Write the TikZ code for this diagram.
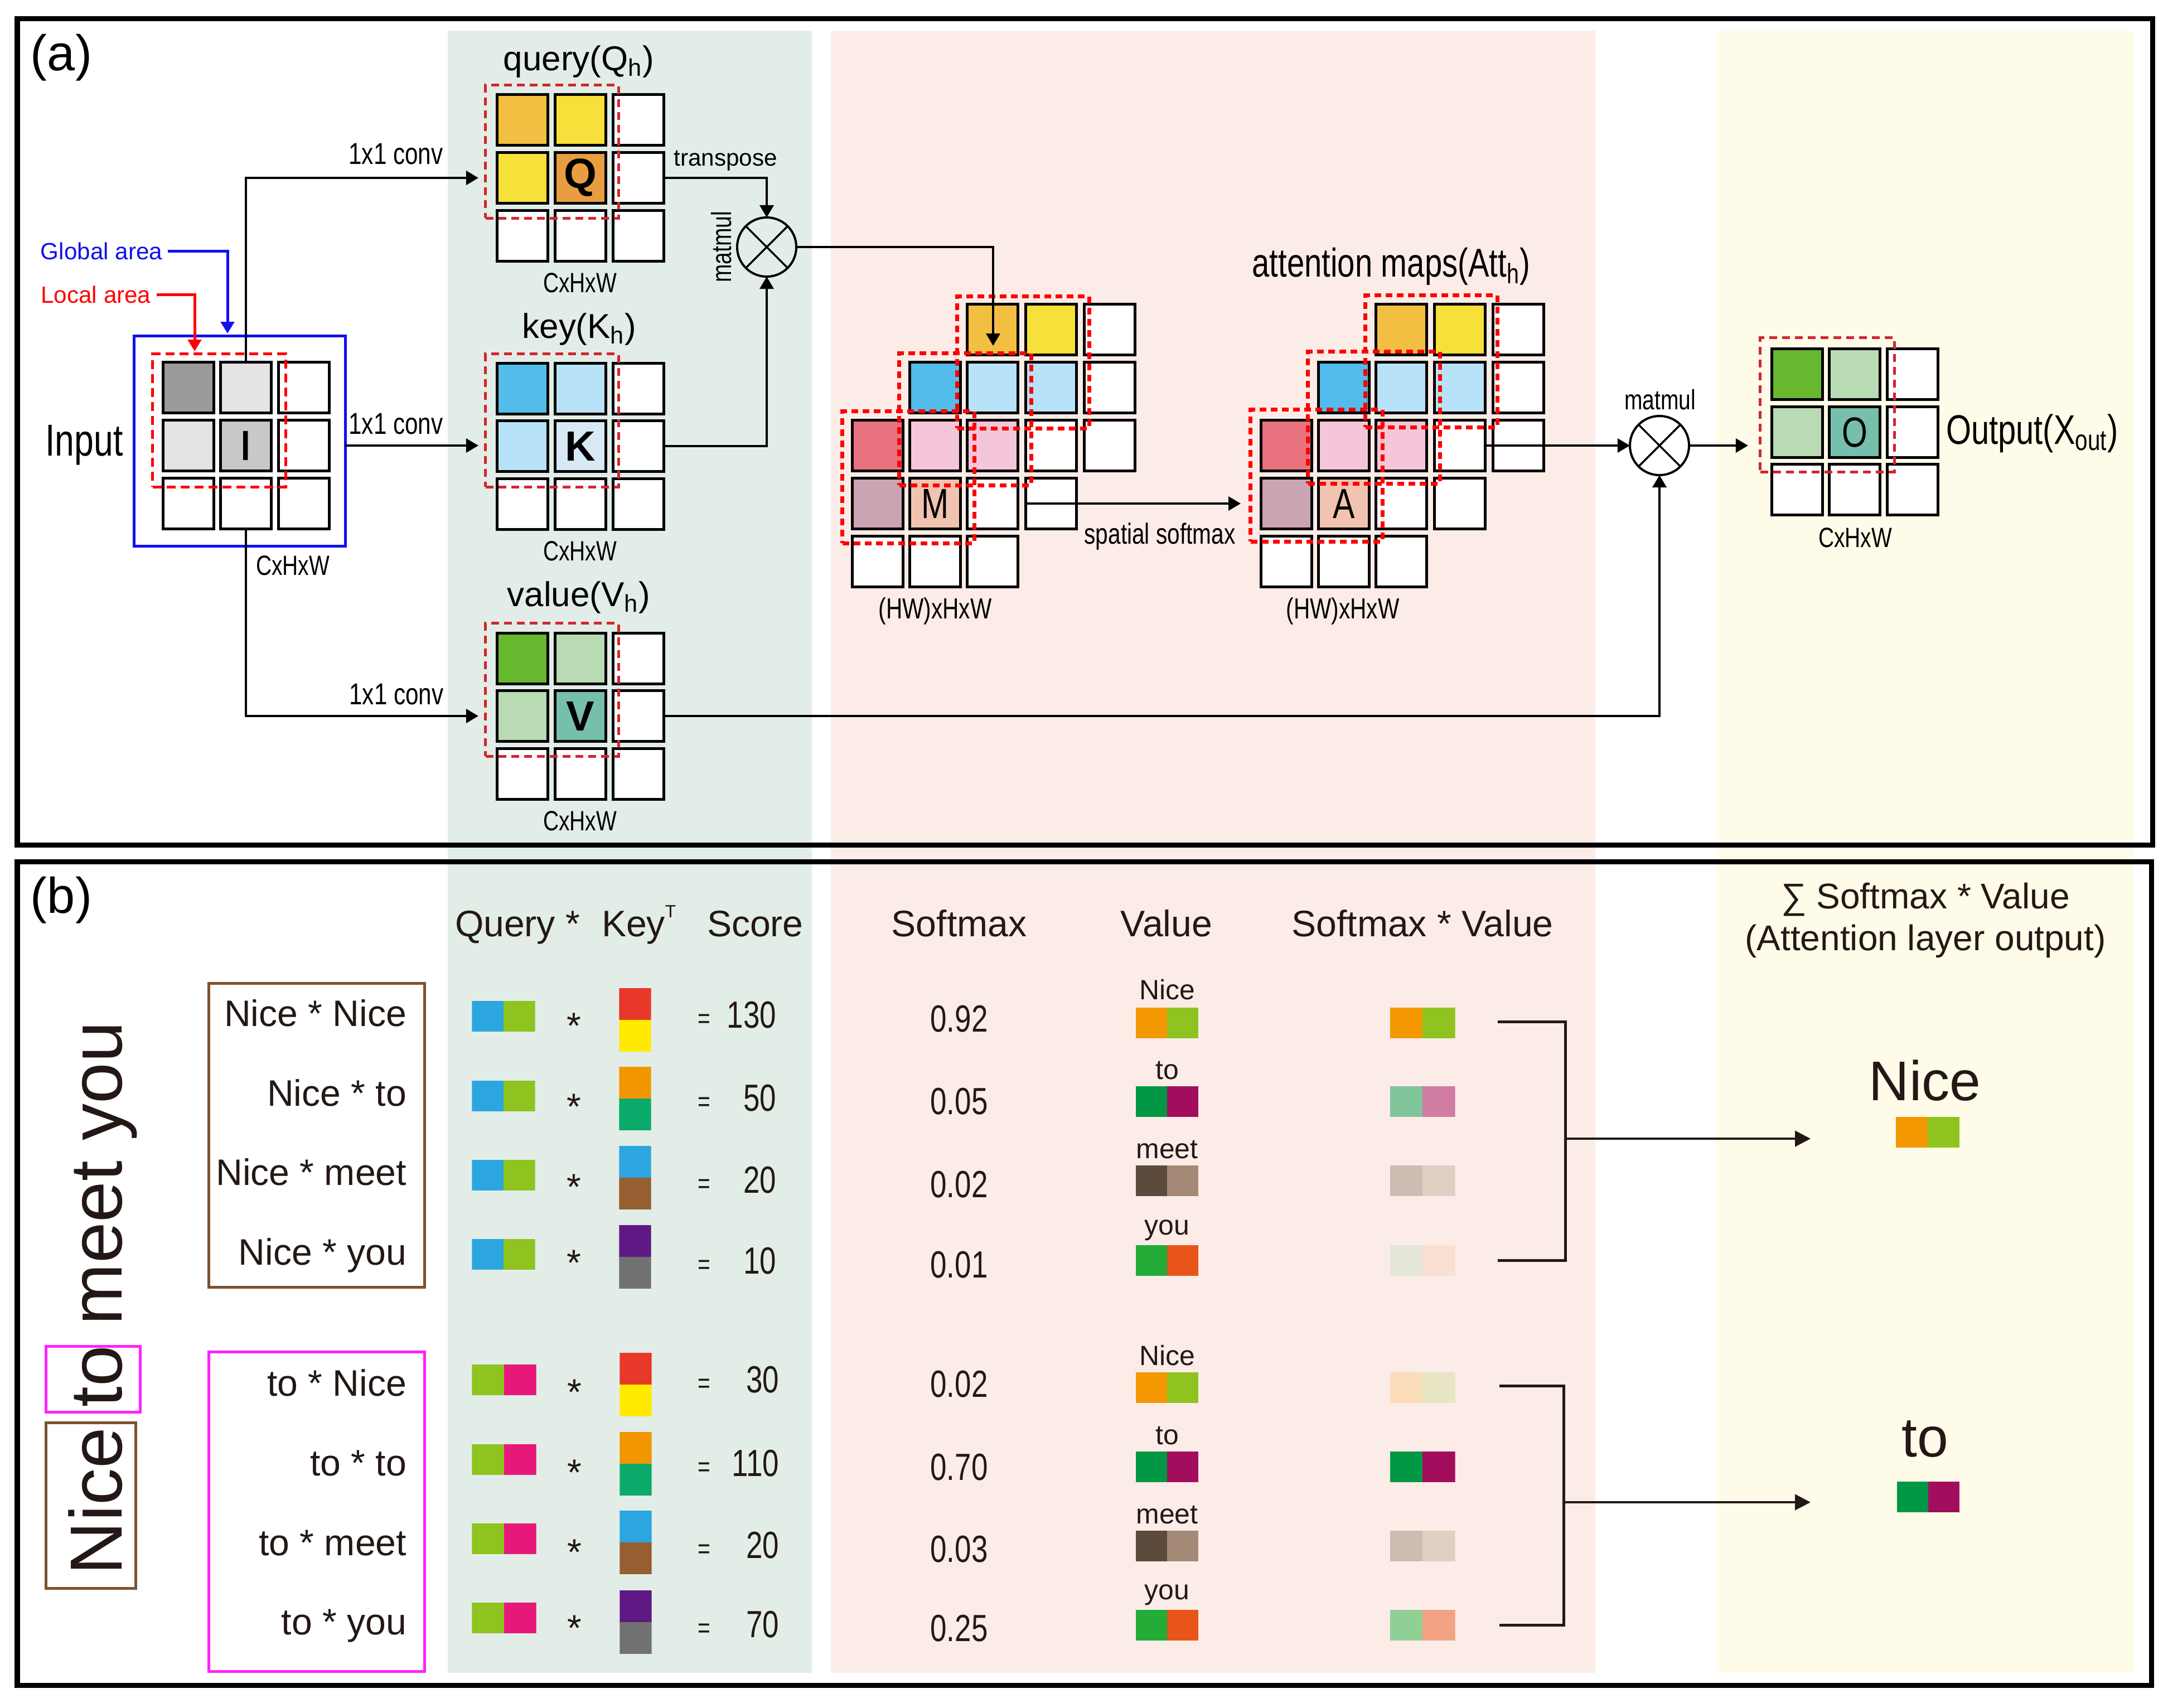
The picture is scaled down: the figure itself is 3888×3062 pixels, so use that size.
\documentclass[tikz,border=0pt]{standalone}
\usepackage{fontspec}
\setmainfont{Liberation Sans}
\newfontfamily\nar[FakeStretch=0.78]{Liberation Sans}
\usetikzlibrary{arrows.meta,calc}
% colours
\definecolor{bandG}{HTML}{E3EDE7}
\definecolor{bandP}{HTML}{FCECE8}
\definecolor{bandY}{HTML}{FEFBE8}
\definecolor{qo}{HTML}{F3BF42}
\definecolor{qy}{HTML}{F8E03A}
\definecolor{qq}{HTML}{E89E40}
\definecolor{kb}{HTML}{52BDEB}
\definecolor{kl}{HTML}{B8E2F7}
\definecolor{kk}{HTML}{D8E9F6}
\definecolor{vg}{HTML}{67B82E}
\definecolor{vl}{HTML}{B9DBB4}
\definecolor{vv}{HTML}{77BFAD}
\definecolor{mr}{HTML}{E8737F}
\definecolor{mp}{HTML}{F5C6D9}
\definecolor{mauve}{HTML}{CBA4B4}
\definecolor{peach}{HTML}{F0C4B0}
\definecolor{gA}{HTML}{9A9A9A}
\definecolor{gB}{HTML}{E4E4E4}
\definecolor{gC}{HTML}{C8C8C8}
\definecolor{crim}{HTML}{D22630}
\definecolor{bred}{HTML}{FF0000}
\definecolor{bblue}{HTML}{1010F0}
\definecolor{brn}{HTML}{7B5231}
\definecolor{mgt}{HTML}{FF22FF}
\definecolor{ink}{HTML}{231815}
\definecolor{cBlue}{HTML}{2BA6DF}
\definecolor{cLime}{HTML}{8FC31F}
\definecolor{cMag}{HTML}{E6187A}
\definecolor{cRed}{HTML}{E8382A}
\definecolor{cYel}{HTML}{FFEA00}
\definecolor{cOr}{HTML}{F29600}
\definecolor{cTeal}{HTML}{0BAA6A}
\definecolor{cBrown}{HTML}{955F31}
\definecolor{cPur}{HTML}{5F1985}
\definecolor{cGray}{HTML}{727171}
\definecolor{vOr}{HTML}{F39800}
\definecolor{vGr}{HTML}{009844}
\definecolor{vMg}{HTML}{A20E5D}
\definecolor{vDb}{HTML}{5C4A3C}
\definecolor{vTp}{HTML}{A48A76}
\definecolor{vYg}{HTML}{23AC38}
\definecolor{vRo}{HTML}{E85419}
\definecolor{sA}{HTML}{80C49A}
\definecolor{sB}{HTML}{D17CA3}
\definecolor{sC}{HTML}{CEBCB2}
\definecolor{sD}{HTML}{E1CFC4}
\definecolor{sE}{HTML}{E4E6D8}
\definecolor{sF}{HTML}{FADFD3}
\definecolor{sG}{HTML}{FADCB8}
\definecolor{sH}{HTML}{E7E5C3}
\definecolor{sI}{HTML}{90D096}
\definecolor{sJ}{HTML}{F3A383}
\tikzset{
  cell/.style={draw=black, line width=0.05cm, minimum width=0.91cm, minimum height=0.91cm,
    font=\nar\fontsize{21.5}{22}\selectfont},
  cdash/.style={draw=crim, line width=0.05cm, dash pattern=on 0.14cm off 0.09cm,
    minimum width=2.38cm, minimum height=2.38cm},
  rdash/.style={draw=bred, line width=0.07cm, dash pattern=on 0.12cm off 0.08cm,
    minimum width=2.36cm, minimum height=2.36cm},
  idash/.style={draw=bred, line width=0.05cm, dash pattern=on 0.16cm off 0.09cm,
    minimum width=2.38cm, minimum height=2.38cm},
  arr/.style={draw=black, line width=0.035cm, -{Triangle[length=0.22cm,width=0.25cm]}},
  barr/.style={draw=ink, line width=0.045cm, -{Triangle[length=0.28cm,width=0.28cm]}},
  brk/.style={draw=ink, line width=0.05cm},
  mmul/.style={circle, draw=black, line width=0.04cm, minimum size=1.06cm},
  title/.style={font=\fontsize{17.6}{18}\selectfont},
  dimlab/.style={font=\nar\fontsize{14.2}{15}\selectfont},
  conv/.style={font=\nar\fontsize{15.4}{16}\selectfont},
  small/.style={font=\fontsize{12}{13}\selectfont},
  hdr/.style={font=\fontsize{18.8}{19}\selectfont, text=ink},
  num/.style={font=\nar\fontsize{19.3}{20}\selectfont, text=ink},
  vlab/.style={font=\fontsize{14.2}{15}\selectfont, text=ink},
  hbar/.style n args={4}{minimum width=#3cm, minimum height=#4cm,
    path picture={\fill[#1] (path picture bounding box.south west) rectangle (path picture bounding box.north);
      \fill[#2] (path picture bounding box.south) rectangle (path picture bounding box.north east);}},
  vbar/.style 2 args={minimum width=0.57cm, minimum height=1.14cm,
    path picture={\fill[#1] (path picture bounding box.west) rectangle (path picture bounding box.north east);
      \fill[#2] (path picture bounding box.south west) rectangle (path picture bounding box.east);}},
}
\newcommand\cel[5]{\node[cell,fill=#4] (#1) at (#2,#3) {#5};}
\begin{document}
\begin{tikzpicture}[x=0.01cm,y=-0.01cm, every node/.style={inner sep=0pt, outer sep=0pt}]
\useasboundingbox (0,0) rectangle (3888,3062);
\fill[white] (0,0) rectangle (3888,3062);
% bands
\fill[bandG] (803,55) rectangle (1456,3000);
\fill[bandP] (1490,55) rectangle (2861,3000);
\fill[bandY] (3078,55) rectangle (3826,3000);
% frames
\draw[line width=0.09cm] (31,33) rectangle (3860,1515);
\draw[line width=0.09cm] (31,1545) rectangle (3858,3022);

% ================= panel (a)
\node[font=\fontsize{25.6}{26}\selectfont] (la) at (110,103) {(a)};
% input
\node[draw=bblue, line width=0.05cm, minimum width=3.78cm, minimum height=3.77cm] (inbox) at (430,791) {};
\cel{i11}{338}{695}{gA}{}
\cel{i12}{441}{695}{gB}{}
\cel{i13}{545}{695}{white}{}
\cel{i21}{338}{799}{gB}{}
\cel{i22}{441}{799}{gC}{\bfseries I}
\cel{i23}{545}{799}{white}{}
\cel{i31}{338}{903}{white}{}
\cel{i32}{441}{903}{white}{}
\cel{i33}{545}{903}{white}{}
\node[idash] (ibox) at (393,754) {};
\node[font=\nar\fontsize{22.8}{23}\selectfont] (inl) at (151,798) {Input};
\node[dimlab] (indim) at (525,1014) {CxHxW};
\node[small, text=bblue] (glob) at (182,450) {Global area};
\node[small, text=bred] (loc) at (172,528) {Local area};
\coordinate (gtip) at (408,598);
\coordinate (ltip) at (349,630);
\draw[draw=bblue, line width=0.05cm, -{Triangle[length=0.21cm,width=0.24cm]}, shorten <=0.1cm] (glob.east) -| (gtip);
\draw[draw=bred, line width=0.05cm, -{Triangle[length=0.21cm,width=0.24cm]}, shorten <=0.1cm] (loc.east) -| (ltip);

% query
\node[title] (qt) at (1038,110) {query(Q\textsubscript{h})};
\cel{q11}{937}{215}{qo}{}
\cel{q12}{1041}{215}{qy}{}
\cel{q13}{1145}{215}{white}{}
\cel{q21}{937}{319}{qy}{}
\cel{q22}{1041}{319}{qq}{\normalfont\bfseries Q}
\cel{q23}{1145}{319}{white}{}
\cel{q31}{937}{423}{white}{}
\cel{q32}{1041}{423}{white}{}
\cel{q33}{1145}{423}{white}{}
\node[cdash] (qbox) at (990,272) {};
\node[dimlab] (qdim) at (1040,507) {CxHxW};
% key
\node[title] (kt) at (1039,590) {key(K\textsubscript{h})};
\cel{k11}{937}{697}{kb}{}
\cel{k12}{1041}{697}{kl}{}
\cel{k13}{1145}{697}{white}{}
\cel{k21}{937}{800}{kl}{}
\cel{k22}{1041}{800}{kk}{\normalfont\bfseries K}
\cel{k23}{1145}{800}{white}{}
\cel{k31}{937}{904}{white}{}
\cel{k32}{1041}{904}{white}{}
\cel{k33}{1145}{904}{white}{}
\node[cdash] (kbox) at (990,754) {};
\node[dimlab] (kdim) at (1040,988) {CxHxW};
% value
\node[title] (vt) at (1038,1071) {value(V\textsubscript{h})};
\cel{v11}{937}{1181}{vg}{}
\cel{v12}{1041}{1181}{vl}{}
\cel{v13}{1145}{1181}{white}{}
\cel{v21}{937}{1284}{vl}{}
\cel{v22}{1041}{1284}{vv}{\normalfont\bfseries V}
\cel{v23}{1145}{1284}{white}{}
\cel{v31}{937}{1388}{white}{}
\cel{v32}{1041}{1388}{white}{}
\cel{v33}{1145}{1388}{white}{}
\node[cdash] (vbox) at (990,1237) {};
\node[dimlab] (vdim) at (1040,1472) {CxHxW};

% 1x1 conv connectors
\node[conv] (c1) at (710,276) {1x1 conv};
\node[conv] (c2) at (710,760) {1x1 conv};
\node[conv] (c3) at (711,1245) {1x1 conv};
\draw[arr, line width=0.045cm, shorten >=0.13cm] (i12.north) |- (qbox.west |- q21);
\draw[arr, shorten >=0.13cm] (inbox.east |- i22) -- (kbox.west |- i22);
\draw[arr, shorten >=0.13cm] (i32.south) |- (vbox.west |- v21);

% matmul 1
\node[mmul] (mm1) at (1375,443) {};
\draw[line width=0.035cm] (mm1.45) -- (mm1.225) (mm1.135) -- (mm1.315);
\node[rotate=90, font=\nar\fontsize{14.2}{15}\selectfont] (mml1) at (1294,443) {matmul};
\node[small] (tr) at (1301,288) {transpose};
\draw[arr] (q23.east) -| (mm1.north);
\draw[arr] (k23.east) -| (mm1.south);

% M cube
\cel{mA1}{1780}{591}{qo}{}
\cel{mA2}{1885}{591}{qy}{}
\cel{mA3}{1990}{591}{white}{}
\cel{mB1}{1677}{695}{kb}{}
\cel{mB2}{1780}{695}{kl}{}
\cel{mB3}{1885}{695}{kl}{}
\cel{mB4}{1990}{695}{white}{}
\cel{mC1}{1574}{799}{mr}{}
\cel{mC2}{1677}{799}{mp}{}
\cel{mC3}{1780}{799}{mp}{}
\cel{mC4}{1885}{799}{white}{}
\cel{mC5}{1990}{799}{white}{}
\cel{mD1}{1574}{903}{mauve}{}
\cel{mD2}{1677}{903}{peach}{M}
\cel{mD3}{1780}{903}{white}{}
\cel{mD4}{1885}{903}{white}{}
\cel{mE1}{1574}{1007}{white}{}
\cel{mE2}{1677}{1007}{white}{}
\cel{mE3}{1780}{1007}{white}{}
\node[rdash] (mbox1) at (1835,650) {};
\node[rdash] (mbox2) at (1731,752) {};
\node[rdash] (mbox3) at (1629,856) {};
\node[font=\nar\fontsize{14.8}{15}\selectfont] (mdim) at (1677,1096) {(HW)xHxW};
\coordinate (mtip) at (1781,620);
\draw[arr] (mm1.east) -| (mtip);

% A cube
\cel{aA1}{2513}{591}{qo}{}
\cel{aA2}{2618}{591}{qy}{}
\cel{aA3}{2723}{591}{white}{}
\cel{aB1}{2410}{695}{kb}{}
\cel{aB2}{2513}{695}{kl}{}
\cel{aB3}{2618}{695}{kl}{}
\cel{aB4}{2723}{695}{white}{}
\cel{aC1}{2307}{799}{mr}{}
\cel{aC2}{2410}{799}{mp}{}
\cel{aC3}{2513}{799}{mp}{}
\cel{aC4}{2618}{799}{white}{}
\cel{aC5}{2723}{799}{white}{}
\cel{aD1}{2307}{903}{mauve}{}
\cel{aD2}{2410}{903}{peach}{A}
\cel{aD3}{2513}{903}{white}{}
\cel{aD4}{2618}{903}{white}{}
\cel{aE1}{2307}{1007}{white}{}
\cel{aE2}{2410}{1007}{white}{}
\cel{aE3}{2513}{1007}{white}{}
\node[rdash] (abox1) at (2567,648) {};
\node[rdash] (abox2) at (2464,749) {};
\node[rdash] (abox3) at (2361,853) {};
\node[font=\nar\fontsize{14.8}{15}\selectfont] (adim) at (2408,1096) {(HW)xHxW};
\node[font=\nar\fontsize{20.5}{21}\selectfont] (att) at (2495,478) {attention maps(Att\textsubscript{h})};
\node[font=\nar\fontsize{14.8}{15}\selectfont] (ss) at (2080,962) {spatial softmax};
\coordinate (stip) at (2225,903);
\draw[arr] (mD4.west) -- (stip);

% matmul 2
\node[mmul] (mm2) at (2976,799) {};
\draw[line width=0.035cm] (mm2.45) -- (mm2.225) (mm2.135) -- (mm2.315);
\node[font=\nar\fontsize{14.2}{15}\selectfont] (mml2) at (2977,717) {matmul};
\draw[arr] (aC4.east) -- (mm2.west);
\draw[arr] (v23.east) -| (mm2.south);

% output
\cel{o11}{3223}{671}{vg}{}
\cel{o12}{3326}{671}{vl}{}
\cel{o13}{3430}{671}{white}{}
\cel{o21}{3223}{775}{vl}{}
\cel{o22}{3326}{775}{vv}{O}
\cel{o23}{3430}{775}{white}{}
\cel{o31}{3223}{878}{white}{}
\cel{o32}{3326}{878}{white}{}
\cel{o33}{3430}{878}{white}{}
\node[cdash, minimum width=2.40cm, minimum height=2.40cm] (obox) at (3277,726) {};
\node[dimlab] (odim) at (3327,964) {CxHxW};
\node[anchor=west, font=\nar\fontsize{21.1}{22}\selectfont] (outl) at (3490,777) {Output(X\textsubscript{out})};
\draw[arr, shorten >=0.22cm] (mm2.east) -- (obox.west |- mm2);

% ================= panel (b)
\node[font=\fontsize{25.6}{26}\selectfont] (lb) at (110,1614) {(b)};
\node[anchor=base, rotate=90, font=\fontsize{37.6}{38}\selectfont, text=ink] (sent) at (218,2328) {Nice to meet you};
\node[draw=brn, line width=0.05cm, minimum width=1.60cm, minimum height=2.96cm] (bxNice) at (163,2700) {};
\node[draw=mgt, line width=0.05cm, minimum width=1.68cm, minimum height=1.18cm] (bxTo) at (167,2473) {};

% headers
\node[hdr, anchor=base west] (hq) at (816,1679) {Query *};
\node[hdr, anchor=base west] (hk) at (1079,1679) {Key\raisebox{0.5em}{\fontsize{9}{9}\selectfont T}};
\node[hdr, anchor=base west] (hs) at (1268,1679) {Score};
\node[hdr, anchor=base] (hsm) at (1720,1679) {Softmax};
\node[hdr, anchor=base] (hv) at (2092,1679) {Value};
\node[hdr, anchor=base] (hsv) at (2551,1679) {Softmax * Value};
\node[hdr, anchor=base, font=\fontsize{18.2}{19}\selectfont] (hsum) at (3453,1629) {∑ Softmax * Value};
\node[hdr, anchor=base, font=\fontsize{18.2}{19}\selectfont] (hatt) at (3453,1704) {(Attention layer output)};

% group boxes
\node[draw=brn, line width=0.05cm, minimum width=3.86cm, minimum height=5.45cm] (gbox1) at (568,2036) {};
\node[draw=mgt, line width=0.05cm, minimum width=3.86cm, minimum height=5.73cm] (gbox2) at (568,2711) {};

% row labels
\node[hdr, anchor=base east] (r1) at (729,1840) {Nice * Nice};
\node[hdr, anchor=base east] (r2) at (729,1983) {Nice * to};
\node[hdr, anchor=base east] (r3) at (729,2125) {Nice * meet};
\node[hdr, anchor=base east] (r4) at (729,2268) {Nice * you};
\node[hdr, anchor=base east] (r5) at (729,2503) {to * Nice};
\node[hdr, anchor=base east] (r6) at (729,2646) {to * to};
\node[hdr, anchor=base east] (r7) at (729,2789) {to * meet};
\node[hdr, anchor=base east] (r8) at (729,2931) {to * you};

% query bars
\node[hbar={cBlue}{cLime}{1.13}{0.55}] (qb1) at (903,1822) {};
\node[hbar={cBlue}{cLime}{1.13}{0.55}] (qb2) at (903,1965) {};
\node[hbar={cBlue}{cLime}{1.13}{0.55}] (qb3) at (903,2107) {};
\node[hbar={cBlue}{cLime}{1.13}{0.55}] (qb4) at (903,2249) {};
\node[hbar={cLime}{cMag}{1.15}{0.55}] (qb5) at (904,2474) {};
\node[hbar={cLime}{cMag}{1.15}{0.55}] (qb6) at (904,2617) {};
\node[hbar={cLime}{cMag}{1.15}{0.55}] (qb7) at (904,2759) {};
\node[hbar={cLime}{cMag}{1.15}{0.55}] (qb8) at (904,2901) {};

% stars
\node[hdr, anchor=base] (st1) at (1029,1862) {*};
\node[hdr, anchor=base] (st2) at (1029,2007) {*};
\node[hdr, anchor=base] (st3) at (1029,2151) {*};
\node[hdr, anchor=base] (st4) at (1029,2287) {*};
\node[hdr, anchor=base] (st5) at (1030,2519) {*};
\node[hdr, anchor=base] (st6) at (1030,2663) {*};
\node[hdr, anchor=base] (st7) at (1030,2806) {*};
\node[hdr, anchor=base] (st8) at (1030,2942) {*};

% key bars
\node[vbar={cRed}{cYel}] (kb1) at (1139,1829) {};
\node[vbar={cOr}{cTeal}] (kb2) at (1139,1970) {};
\node[vbar={cBlue}{cBrown}] (kb3) at (1139,2112) {};
\node[vbar={cPur}{cGray}] (kb4) at (1139,2254) {};
\node[vbar={cRed}{cYel}] (kb5) at (1140,2483) {};
\node[vbar={cOr}{cTeal}] (kb6) at (1140,2625) {};
\node[vbar={cBlue}{cBrown}] (kb7) at (1140,2766) {};
\node[vbar={cPur}{cGray}] (kb8) at (1140,2909) {};

% equals and scores
\foreach \n/\y/\v/\xr in {1/1843/130/1392, 2/1992/50/1392, 3/2139/20/1392, 4/2284/10/1392,
                          5/2497/30/1397, 6/2647/110/1397, 7/2794/20/1397, 8/2936/70/1397}{
  \node[dimlab, anchor=base, text=ink] (eq\n) at (1263,\y) {=};
  \node[num, anchor=base east] (sc\n) at (\xr,\y) {\v};
}
% softmax values
\foreach \n/\y/\v in {1/1850/0.92, 2/1998/0.05, 3/2147/0.02, 4/2291/0.01,
                      5/2505/0.02, 6/2654/0.70, 7/2801/0.03, 8/2943/0.25}{
  \node[num, anchor=base] (sm\n) at (1720,\y) {\v};
}
% value labels and bars
\foreach \n/\y/\t in {1/1792/Nice, 2/1935/to, 3/2077/meet, 4/2214/you,
                      5/2448/Nice, 6/2590/to, 7/2732/meet, 8/2868/you}{
  \node[vlab, anchor=base] (vlab\n) at (2093,\y) {\t};
}
\node[hbar={vOr}{cLime}{1.12}{0.55}] (vb1) at (2093,1834) {};
\node[hbar={vGr}{vMg}{1.12}{0.55}] (vb2) at (2093,1975) {};
\node[hbar={vDb}{vTp}{1.12}{0.55}] (vb3) at (2093,2117) {};
\node[hbar={vYg}{vRo}{1.12}{0.55}] (vb4) at (2093,2260) {};
\node[hbar={vOr}{cLime}{1.12}{0.55}] (vb5) at (2093,2488) {};
\node[hbar={vGr}{vMg}{1.12}{0.55}] (vb6) at (2093,2630) {};
\node[hbar={vDb}{vTp}{1.12}{0.55}] (vb7) at (2093,2772) {};
\node[hbar={vYg}{vRo}{1.12}{0.55}] (vb8) at (2093,2914) {};
% softmax*value bars
\node[hbar={vOr}{cLime}{1.17}{0.55}] (sv1) at (2551,1834) {};
\node[hbar={sA}{sB}{1.17}{0.55}] (sv2) at (2551,1975) {};
\node[hbar={sC}{sD}{1.17}{0.55}] (sv3) at (2551,2117) {};
\node[hbar={sE}{sF}{1.17}{0.55}] (sv4) at (2551,2260) {};
\node[hbar={sG}{sH}{1.17}{0.55}] (sv5) at (2551,2488) {};
\node[hbar={vGr}{vMg}{1.17}{0.55}] (sv6) at (2551,2630) {};
\node[hbar={sC}{sD}{1.17}{0.55}] (sv7) at (2551,2772) {};
\node[hbar={sI}{sJ}{1.17}{0.55}] (sv8) at (2551,2914) {};

% outputs
\node[font=\fontsize{28.5}{29}\selectfont, anchor=base, text=ink] (oNice) at (3452,1973) {Nice};
\node[hbar={vOr}{cLime}{1.14}{0.55}] (ob1) at (3457,2030) {};
\node[font=\fontsize{28.5}{29}\selectfont, anchor=base, text=ink] (oTo) at (3452,2612) {to};
\node[hbar={vGr}{vMg}{1.12}{0.55}] (ob2) at (3458,2684) {};

% brackets
\coordinate (g1a) at (2686,1832);
\coordinate (g1b) at (2686,2260);
\coordinate (g1m) at (2807,2042);
\coordinate (g1t) at (3247,2042);
\draw[brk] (g1a) -| (g1m) |- (g1b);
\draw[barr] (g1m) -- (g1t);
\coordinate (g2a) at (2689,2485);
\coordinate (g2b) at (2689,2914);
\coordinate (g2m) at (2804,2694);
\coordinate (g2t) at (3247,2694);
\draw[brk] (g2a) -| (g2m) |- (g2b);
\draw[barr] (g2m) -- (g2t);
\end{tikzpicture}
\end{document}
